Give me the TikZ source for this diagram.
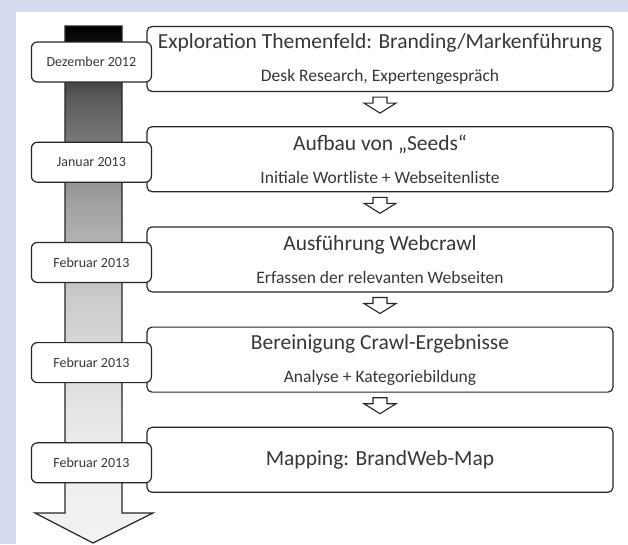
\documentclass[tikz,border=0pt]{standalone}
\usepackage{fontspec}
\setmainfont{Carlito}
\usetikzlibrary{positioning, calc}

\definecolor{pagebg}{RGB}{214,220,240}
\definecolor{ink}{RGB}{38,38,38}
\definecolor{txt}{RGB}{55,55,55}

\pgfdeclareverticalshading{timebar}{100bp}{color(0bp)=(black!5); color(25bp)=(black!5); color(34bp)=(black!7); color(48.5bp)=(black!20); color(58bp)=(black!37); color(68bp)=(black!64); color(73.5bp)=(black!95); color(75bp)=(black); color(100bp)=(black)}

\newcommand{\subline}[1]{{\fontsize{17.5}{21}\selectfont #1}}

\begin{document}
\begin{tikzpicture}[
    x=1pt, y=-1pt,
    node distance=34pt,
    stage/.style={rectangle, rounded corners=5pt, draw=ink, line width=1.2pt, fill=white, minimum width=466pt, minimum height=65pt, align=center, text=txt, inner sep=0pt, font=\fontsize{21.5}{25}\selectfont},
    date/.style={rectangle, rounded corners=6pt, draw=ink, line width=1.2pt, fill=white, minimum width=120pt, minimum height=40pt, text=txt, font=\fontsize{14}{17}\selectfont},
    hollow/.style={draw=ink, line width=1.1pt, fill=white, line join=miter},
    timeline/.style={draw=ink, line width=1.2pt, shading=timebar}
]

% Background
\useasboundingbox (0,0) rectangle (628,544);
\fill[pagebg] (0,0) rectangle (628,544);
\fill[white] (16,12) rectangle (628,544);

% Time bar
\draw[timeline] (65,26) -- (122,26) -- (122,513) -- (153,513) -- (93,543) -- (35,513) -- (65,513) -- cycle;

% Stages
\node[stage] (s1) at (380,59) {Exploration Themenfeld: Branding/Markenführung\\[8pt]\subline{Desk Research, Expertengespräch}};
\node[stage, below=of s1] (s2) {Aufbau von „Seeds“\\[8pt]\subline{Initiale Wortliste + Webseitenliste}};
\node[stage, below=of s2] (s3) {Ausführung Webcrawl\\[8pt]\subline{Erfassen der relevanten Webseiten}};
\node[stage, below=of s3] (s4) {Bereinigung Crawl-Ergebnisse\\[8pt]\subline{Analyse + Kategoriebildung}};
\node[stage, below=of s4] (s5) {Mapping: BrandWeb-Map};

% Dates
\node[date] (d1) at ($(s1.west)+(-55,3)$) {Dezember 2012};
\node[date] (d2) at ($(s2.west)+(-55,3)$) {Januar 2013};
\node[date] (d3) at ($(s3.west)+(-55,3)$) {Februar 2013};
\node[date] (d4) at ($(s4.west)+(-55,3)$) {Februar 2013};
\node[date] (d5) at ($(s5.west)+(-55,3)$) {Februar 2013};

% Arrows
\foreach \a/\b in {s1/s2, s2/s3, s3/s4, s4/s5}
  \draw[hollow] ($(\a.south)+(-7,5)$) -- ++(14,0) -- ++(0,6) -- ++(9,0) -- ($(\b.north)+(0,-13)$) -- ($(\a.south)+(-16,11)$) -- ++(9,0) -- cycle;

\end{tikzpicture}
\end{document}
